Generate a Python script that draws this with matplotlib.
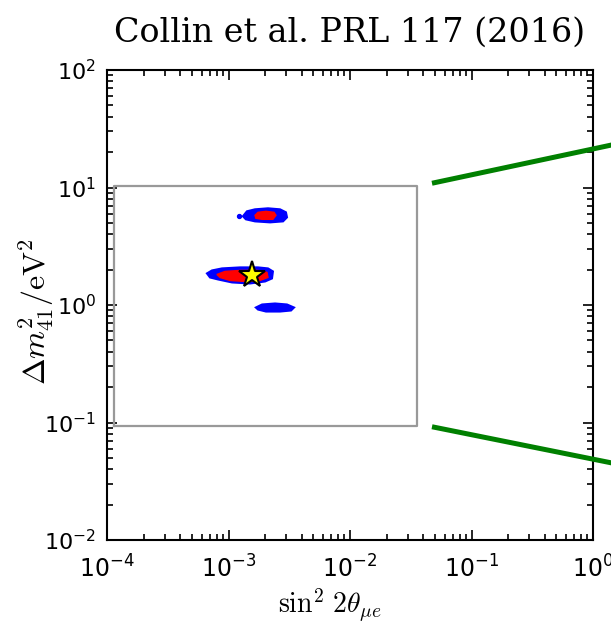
import matplotlib
matplotlib.use("Agg")
import matplotlib.pyplot as plt
from matplotlib.ticker import LogLocator, NullFormatter

plt.rcParams['mathtext.fontset'] = 'cm'

# Axis ranges and ticks
x_range = [1e-4, 1.0]
y_range = [1e-2, 1e2]
x_ticks = [1e-4, 1e-3, 1e-2, 1e-1, 1e0]
x_ticklabels = ['$\\mathregular{10^{-4}}$', '$\\mathregular{10^{-3}}$', '$\\mathregular{10^{-2}}$',
                '$\\mathregular{10^{-1}}$', '$\\mathregular{10^{0}}$']
y_ticks = [1e-2, 1e-1, 1e0, 1e1, 1e2]
y_ticklabels = ['$\\mathregular{10^{-2}}$', '$\\mathregular{10^{-1}}$', '$\\mathregular{10^{0}}$',
                '$\\mathregular{10^{1}}$', '$\\mathregular{10^{2}}$']

# Allowed-region blobs (outline vertices)
upper_blue_x = [1.315e-3, 1.418e-3, 1.652e-3, 2.113e-3, 2.655e-3, 2.97e-3, 3.03e-3, 2.81e-3, 2.20e-3, 1.652e-3, 1.39e-3]
upper_blue_y = [5.69, 6.27, 6.52, 6.65, 6.52, 6.15, 5.57, 5.15, 5.05, 5.15, 5.36]
upper_red_x = [1.652e-3, 1.75e-3, 2.035e-3, 2.37e-3, 2.46e-3, 2.32e-3, 1.89e-3, 1.68e-3]
upper_red_y = [5.80, 6.15, 6.27, 6.15, 5.80, 5.36, 5.36, 5.47]
stray_x = [1.22e-3]
stray_y = [5.69]

mid_blue_x = [6.65e-4, 7.31e-4, 8.84e-4, 1.244e-3, 1.75e-3, 2.113e-3, 2.32e-3, 2.28e-3, 2.00e-3, 1.50e-3, 1.07e-3, 8.20e-4, 7.04e-4]
mid_blue_y = [1.857, 1.968, 2.048, 2.089, 2.089, 2.048, 1.931, 1.683, 1.586, 1.525, 1.556, 1.650, 1.716]
mid_red_x = [8.03e-4, 9.35e-4, 1.244e-3, 1.75e-3, 2.075e-3, 2.113e-3, 1.815e-3, 1.367e-3, 1.029e-3, 8.51e-4]
mid_red_y = [1.820, 1.931, 1.968, 1.968, 1.893, 1.716, 1.618, 1.586, 1.618, 1.716]

low_blue_x = [1.68e-3, 1.89e-3, 2.415e-3, 3.03e-3, 3.46e-3, 3.27e-3, 2.655e-3, 2.035e-3, 1.75e-3]
low_blue_y = [0.952, 1.010, 1.030, 1.010, 0.952, 0.898, 0.880, 0.880, 0.915]

best_fit_x = [1.56e-3]
best_fit_y = [1.785]

# Zoom box and connector lines
box_x = [1.14e-4, 0.0355]
box_y = [0.093, 10.3]
upper_conn_x = [0.0473, 2.0]
upper_conn_y = [10.87, 24.8]
lower_conn_x = [0.0473, 2.0]
lower_conn_y = [0.092, 0.0422]

fig = plt.figure(figsize=(6.11, 6.36), dpi=100)
ax = fig.add_axes([107/611, 1 - 540/636, 486/611, 470/636])
ax.set_xscale('log')
ax.set_yscale('log')
ax.set_xlim(x_range)
ax.set_ylim(y_range)

# blobs
for bx, by, c in [(upper_blue_x, upper_blue_y, 'blue'), (mid_blue_x, mid_blue_y, 'blue'),
                  (low_blue_x, low_blue_y, 'blue')]:
    ax.fill(bx, by, color=c, lw=1.5, zorder=3)
ax.scatter(stray_x, stray_y, s=8, color='blue', zorder=3)
for bx, by in [(upper_red_x, upper_red_y), (mid_red_x, mid_red_y)]:
    ax.fill(bx, by, color='red', lw=1.0, zorder=4)
ax.plot(best_fit_x, best_fit_y, marker='*', markersize=20, markerfacecolor='yellow',
        markeredgecolor='black', markeredgewidth=1.5, linestyle='none', zorder=5)

# zoom box
ax.plot([box_x[0], box_x[1], box_x[1], box_x[0], box_x[0]],
        [box_y[0], box_y[0], box_y[1], box_y[1], box_y[0]],
        color='#999999', lw=1.6, zorder=2)
ax.plot(upper_conn_x, upper_conn_y, color='green', lw=3.6, clip_on=False, zorder=6,
        solid_capstyle='butt')
ax.plot(lower_conn_x, lower_conn_y, color='green', lw=3.6, clip_on=False, zorder=6,
        solid_capstyle='butt')

ax.set_xticks(x_ticks)
ax.set_xticklabels(x_ticklabels, fontsize=17)
ax.set_yticks(y_ticks)
ax.set_yticklabels(y_ticklabels, fontsize=16)
ax.xaxis.set_minor_locator(LogLocator(base=10, subs=range(2, 10), numticks=20))
ax.yaxis.set_minor_locator(LogLocator(base=10, subs=range(2, 10), numticks=20))
ax.xaxis.set_minor_formatter(NullFormatter())
ax.yaxis.set_minor_formatter(NullFormatter())
ax.tick_params(which='both', direction='in', top=True, right=True, width=1.2)
ax.tick_params(which='major', length=7)
ax.tick_params(axis='x', which='major', pad=11)
ax.tick_params(axis='y', which='major', pad=8)
ax.tick_params(which='minor', length=4)
for s in ax.spines.values():
    s.set_linewidth(1.5)

ax.set_xlabel('$\\sin^2\\,2\\theta_{\\mu e}$', fontsize=20)
ax.xaxis.set_label_coords(0.459, -0.1)
ax.set_ylabel('$\\Delta m^2_{41}/\\mathrm{eV}^2$', fontsize=23)
ax.yaxis.set_label_coords(-0.105, 0.485)
ax.set_title('Collin et al. PRL 117 (2016)', fontsize=24, family='DejaVu Serif', pad=20)

fig.savefig('out.png', dpi=100)
